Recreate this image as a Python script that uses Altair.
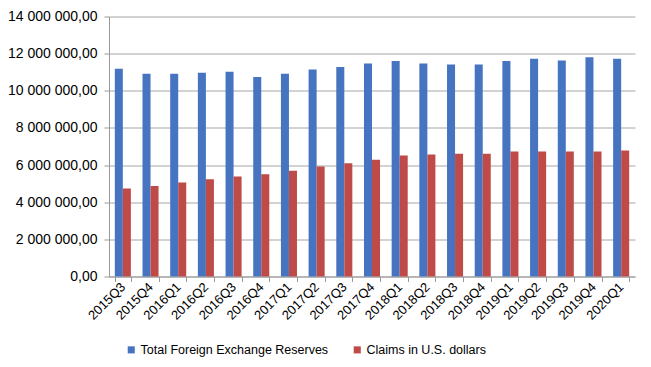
import altair as alt
import pandas as pd

quarters = ["2015Q3", "2015Q4", "2016Q1", "2016Q2", "2016Q3", "2016Q4", "2017Q1", "2017Q2",
            "2017Q3", "2017Q4", "2018Q1", "2018Q2", "2018Q3", "2018Q4", "2019Q1", "2019Q2",
            "2019Q3", "2019Q4", "2020Q1"]
total_reserves = [11180000, 10920000, 10920000, 10970000, 11020000, 10740000, 10920000, 11150000,
                  11280000, 11470000, 11600000, 11470000, 11420000, 11420000, 11600000, 11720000,
                  11630000, 11810000, 11720000]
usd_claims = [4740000, 4870000, 5060000, 5240000, 5380000, 5510000, 5690000, 5920000,
              6100000, 6280000, 6520000, 6570000, 6610000, 6610000, 6730000, 6730000,
              6730000, 6730000, 6790000]
series_names = ["Total Foreign Exchange Reserves", "Claims in U.S. dollars"]
series_colors = ["#4674C1", "#BE4B48"]

rows = []
for q, t, c in zip(quarters, total_reserves, usd_claims):
    rows.append({"quarter": q, "series": series_names[0], "value": t})
    rows.append({"quarter": q, "series": series_names[1], "value": c})
df = pd.DataFrame(rows)

FONT = "Liberation Sans"

chart = alt.Chart(df).mark_bar().encode(
    x=alt.X("quarter:N", sort=quarters, title=None,
            scale=alt.Scale(paddingInner=0.42, paddingOuter=0.21),
            axis=alt.Axis(labelAngle=-45, labelAlign="right", labelBaseline="middle",
                          labelFontSize=13, labelColor="#000000", labelFont=FONT,
                          tickBand="extent", tickColor="#999999", tickSize=5,
                          domainColor="#999999", labelPadding=3)),
    xOffset=alt.XOffset("series:N", sort=series_names),
    y=alt.Y("value:Q", title=None,
            scale=alt.Scale(domain=[0, 14000000], nice=False),
            axis=alt.Axis(values=list(range(0, 14000001, 2000000)),
                          labelExpr="replace(replace(format(datum.value, ',.2f'), regexp(',', 'g'), ' '), '.', ',')",
                          labelFontSize=14, labelColor="#000000", labelFont=FONT,
                          gridColor="#A6A6A6", tickColor="#999999", tickSize=5,
                          domainColor="#999999", labelPadding=7)),
    color=alt.Color("series:N", sort=series_names,
                    scale=alt.Scale(domain=series_names, range=series_colors),
                    legend=alt.Legend(title=None, orient="none", direction="horizontal",
                                      legendX=16, legendY=327, symbolType="square",
                                      symbolSize=50, labelFontSize=12.5, labelFont=FONT,
                                      labelColor="#000000", columnPadding=22, labelLimit=0,
                                      symbolStrokeWidth=0, labelOffset=3)),
).properties(
    width=526, height=260,
    autosize=alt.AutoSizeParams(type="none"),
    padding={"left": 101, "top": 8.5, "right": 8, "bottom": 90},
).configure_view(stroke=None)

chart.save("out.html", embed_options={"renderer": "svg", "actions": False})
